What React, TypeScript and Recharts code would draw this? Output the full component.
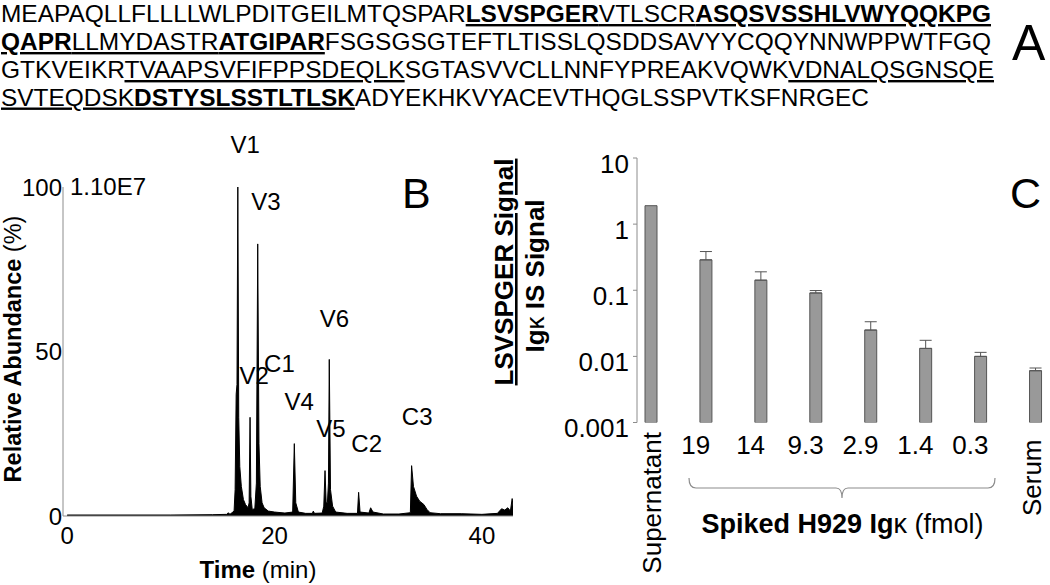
import React from "react";
import { Area, AreaChart, Bar, BarChart, ErrorBar, ReferenceDot, XAxis, YAxis } from "recharts";

const FONT = "'Liberation Sans', Arial, Helvetica, sans-serif";
const AXIS = "#8c8c8c";

// A: sequence, [text, bold, underlined]
type Seg = [string, boolean, boolean];
const seqLines: Seg[][] = [
  [["MEAPAQLLFLLLLWLPDITGEILMTQSPAR", false, false], ["LSVSPGER", true, true], ["VTLSCR", false, true], ["ASQSVSSHLVWYQQKPG", true, true]],
  [["QAPR", true, true], ["LLMYDASTR", false, true], ["ATGIPAR", true, true], ["FSGSGSGTEFTLTISSLQSDDSAVYYCQQYNNWPPWTFGQ", false, false]],
  [["GTKVEIKR", false, false], ["TVAAPSVFIFPPSDEQLK", false, true], ["SGTASVVCLLNNFYPREAKVQWK", false, false], ["VDNALQSGNSQE", false, true]],
  [["SVTEQDSK", false, true], ["DSTYSLSSTLTLSK", true, true], ["ADYEKHKVYACEVTHQGLSSPVTKSFNRGEC", false, false]],
];

// B: chromatogram, time (min) / relative abundance (%)
const chromTime = [
  0, 5, 10, 14, 15.4, 15.55, 15.7, 16.1, 16.2, 16.3, 16.38, 16.46, 16.55, 16.65, 16.8, 17.0, 17.2, 17.45, 17.55,
  17.64, 17.72, 17.85, 18.1, 18.25, 18.38, 18.5, 18.62, 18.8, 19.0, 19.4, 20.0, 21.0, 21.75, 21.91, 22.05, 22.3,
  23.0, 23.65, 23.74, 23.85, 24.6, 24.75, 24.87, 24.98, 25.1, 25.2, 25.28, 25.4, 25.6, 25.9, 27.0, 28.0, 28.11,
  28.25, 29.1, 29.27, 29.5, 30.5, 32.0, 33.1, 33.22, 33.4, 33.7, 34.0, 34.4, 34.7, 35.0, 36.0, 38.0, 40.0, 41.5,
  41.9, 42.2, 42.5, 42.75, 42.92, 43.0,
];
const chromAbund = [
  0.3, 0.3, 0.3, 0.4, 0.5, 1.0, 0.5, 1.5, 8, 37, 40, 100, 30, 15, 9, 5, 3.5, 2.5, 4,
  30, 6, 2, 2.2, 10, 82.7, 22, 9, 4, 2.5, 1.5, 1.2, 0.9, 1.2, 22, 4, 1.2,
  0.8, 0.8, 1.5, 0.8, 0.9, 3, 13.8, 4, 4, 10, 47.6, 8, 3, 1.2, 0.8, 0.8, 7.2,
  1.2, 0.9, 2.5, 1.2, 0.6, 0.6, 1, 15.3, 9, 6, 4.5, 3.5, 2, 1, 0.7, 0.7, 0.5, 0.8,
  2.2, 1.8, 2.5, 1.5, 5.3, 3,
];
const peakNames = ["V1", "V2", "V3", "C1", "V4", "V5", "V6", "C2", "C3"];
const peakLabelTime = [17.16, 18.03, 19.16, 20.47, 22.37, 25.45, 25.77, 28.89, 33.76];
const peakLabelLevel = [112.8, 42.8, 95.5, 46.4, 34.7, 26.6, 60.1, 22.0, 30.1];

// C: LSVSPGER / IgK IS ratio
const sampleLabels = ["Supernatant", "", "19", "", "14", "", "9.3", "", "2.9", "", "1.4", "", "0.3", "", "Serum"];
const ratioValues = [1.9, null, 0.288, null, 0.142, null, 0.091, null, 0.025, null, 0.0132, null, 0.01, null, 0.00607];
const ratioErrTop = [null, null, 0.385, null, 0.19, null, 0.099, null, 0.0334, null, 0.0175, null, 0.0115, null, 0.00667];

const chromData = chromTime.map((t, i) => ({ t, a: chromAbund[i] }));
const ratioData = sampleLabels.map((_, i) => ({
  slot: i,
  v: ratioValues[i],
  err: ratioValues[i] != null && ratioErrTop[i] != null ? [0, (ratioErrTop[i] as number) - (ratioValues[i] as number)] : undefined,
}));

const LogTick = (props: any) => {
  const { x, y, payload } = props;
  return (
    <text x={x} y={y} dy={14.5} textAnchor="end" fontSize={26} fontFamily={FONT} fill="#000">
      {String(payload.value)}
    </text>
  );
};

const SampleTick = (props: any) => {
  const { x, y, payload } = props;
  const label = sampleLabels[payload.value];
  if (!label) return null;
  if (label === "Supernatant" || label === "Serum") {
    const top = label === "Serum" ? 17 : 9.5;
    const dx = label === "Serum" ? -3 : 1.5;
    return (
      <text
        transform={`translate(${x + dx},${y + top}) rotate(-90)`}
        dy="0.35em"
        textAnchor="end"
        fontSize={26}
        fontFamily={FONT}
        fill="#000"
      >
        {label}
      </text>
    );
  }
  return (
    <text x={x - 10} y={y + 31} textAnchor="middle" fontSize={26} fontFamily={FONT} fill="#000">
      {label}
    </text>
  );
};

const SequencePanel = () => {
  const baselines = [22, 50, 78, 105.5];
  const lineWidths = [990, 990, 993, 868];
  return (
    <g fontFamily={FONT} fontSize={24} fill="#000">
      {seqLines.map((line, li) => (
        <text key={li} x={1} y={baselines[li]} textLength={lineWidths[li]} lengthAdjust="spacingAndGlyphs">
          {line.map(([s, bold, ul], si) => (
            <tspan key={si} fontWeight={bold ? "bold" : "normal"} textDecoration={ul ? "underline" : "none"}>
              {s}
            </tspan>
          ))}
        </text>
      ))}
      <text x={1012} y={60} fontSize={50}>A</text>
    </g>
  );
};

export default function App() {
  return (
    <div style={{ position: "absolute", left: 0, top: 0, width: 1050, height: 585, background: "#fff", fontFamily: FONT }}>
      <div style={{ position: "absolute", left: 0, top: 0 }}>
        <AreaChart width={530} height={585} data={chromData} margin={{ top: 187, right: 17, bottom: 39, left: 0 }}>
          <XAxis
            dataKey="t"
            type="number"
            domain={[-0.4, 43]}
            allowDataOverflow
            ticks={[0, 20, 40]}
            tickLine={false}
            tickSize={6}
            tickMargin={5}
            height={30}
            stroke={AXIS}
            tick={{ fontSize: 24, fill: "#000", fontFamily: FONT }}
          />
          <YAxis
            type="number"
            domain={[0, 100]}
            allowDataOverflow
            ticks={[0, 50, 100]}
            width={63}
            tickLine={false}
            tickSize={0}
            tickMargin={1}
            stroke={AXIS}
            tick={{ fontSize: 24, fill: "#000", fontFamily: FONT }}
          />
          <Area
            type="linear"
            dataKey="a"
            stroke="#000"
            strokeWidth={1}
            fill="#000"
            fillOpacity={1}
            dot={false}
            activeDot={false}
            isAnimationActive={false}
          />
          {peakNames.map((n, i) => (
            <ReferenceDot
              key={n}
              x={peakLabelTime[i]}
              y={peakLabelLevel[i]}
              r={0}
              fill="none"
              stroke="none"
              ifOverflow="visible"
              label={{ value: n, position: "center", fontSize: 24, fill: "#000", fontFamily: FONT }}
            />
          ))}
        </AreaChart>
      </div>
      <div style={{ position: "absolute", left: 560, top: 0 }}>
        <BarChart width={490} height={585} data={ratioData} margin={{ top: 158, right: 1, bottom: 161.5, left: 0 }}>
          <XAxis
            xAxisId="edges"
            type="number"
            domain={[0, 15]}
            allowDataOverflow
            ticks={[0, 1, 2, 3, 4, 5, 6, 7, 8, 9, 10, 11, 12, 13, 14, 15]}
            tick={false}
            tickSize={4}
            height={0}
            stroke={AXIS}
          />
          <XAxis
            xAxisId="cats"
            dataKey="slot"
            type="category"
            interval={0}
            tickLine={false}
            axisLine={false}
            tickSize={0}
            tickMargin={0}
            height={1}
            tick={<SampleTick />}
          />
          <YAxis
            type="number"
            scale="log"
            domain={[0.001, 10]}
            allowDataOverflow
            ticks={[0.001, 0.01, 0.1, 1, 10]}
            width={77}
            tickSize={4}
            tickMargin={4}
            stroke={AXIS}
            tick={<LogTick />}
          />
          <Bar xAxisId="cats" dataKey="v" barSize={12} fill="#999999" stroke="#555555" strokeWidth={1} isAnimationActive={false}>
            <ErrorBar dataKey="err" width={6} stroke="#555555" strokeWidth={1} direction="y" />
          </Bar>
        </BarChart>
      </div>
      <svg width={1050} height={585} style={{ position: "absolute", left: 0, top: 0, pointerEvents: "none" }}>
        <SequencePanel />
        <g fontFamily={FONT} fill="#000">
          <text x={70} y={195} fontSize={24}>1.10E7</text>
          <text x={402} y={208} fontSize={43}>B</text>
          <text x={1010} y={208} fontSize={43}>C</text>
          <text transform="translate(21,349) rotate(-90)" textAnchor="middle" fontSize={23.5}>
            <tspan fontWeight="bold">Relative Abundance</tspan>
            <tspan> (%)</tspan>
          </text>
          <text x={258} y={578} textAnchor="middle" fontSize={24}>
            <tspan fontWeight="bold">Time</tspan>
            <tspan> (min)</tspan>
          </text>
          <text transform="translate(513,272) rotate(-90)" textAnchor="middle" fontSize={26} fontWeight="bold" textDecoration="underline">
            LSVSPGER Signal
          </text>
          <text transform="translate(544,276) rotate(-90)" textAnchor="middle" fontSize={26} fontWeight="bold">
            Ig<tspan fontWeight="normal">κ</tspan> IS Signal
          </text>
          <text x={842.5} y={533} textAnchor="middle" fontSize={27}>
            <tspan fontWeight="bold">Spiked H929 Ig</tspan>
            <tspan>κ (fmol)</tspan>
          </text>
          <path
            d="M689,478 Q689,488 696,488 L836,488 Q842,488 842,498 Q842,488 848,488 L988,488 Q995,488 995,478"
            fill="none"
            stroke={AXIS}
            strokeWidth={1.2}
          />
        </g>
      </svg>
    </div>
  );
}
